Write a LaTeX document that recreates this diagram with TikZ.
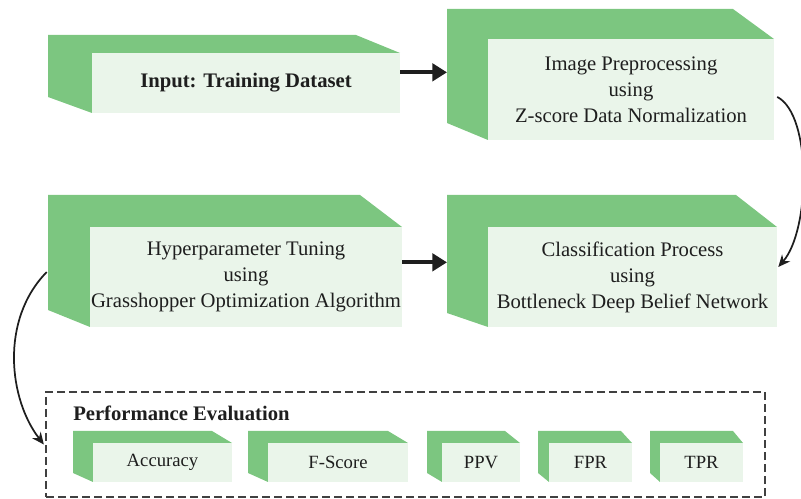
\documentclass[tikz,border=0pt]{standalone}
\usepackage{fontspec}
\setmainfont{Liberation Serif}
\usetikzlibrary{arrows.meta}
\definecolor{sidegreen}{RGB}{124,198,128}
\definecolor{facegreen}{RGB}{234,245,234}
\definecolor{inkgray}{RGB}{30,30,30}
\tikzset{
  side/.style={fill=sidegreen},
  face/.style={fill=facegreen, inner sep=0pt, align=center, text=inkgray,
    font=\fontsize{15.5}{19.5}\selectfont},
  bigarrow/.style={line width=3pt, -{Triangle[length=11pt,width=13pt]}},
  curvearrow/.style={line width=1.3pt, -{Stealth[length=9pt,width=8pt]}},
}
% \slab{name}{x1}{y1}{x2}{y2}{depth x}{depth top}{depth bottom}{text}
% front face (x1,y1)-(x2,y2) with a green top and left side behind it
\newcommand\slab[9]{%
  \fill[side] ({#2-#6},{#3-#7}) -- ({#4-#6},{#3-#7}) -- (#4,#3) -- (#2,#3)
    -- (#2,#5) -- ({#2-#6},{#5-#8}) -- cycle;
  \node[face, minimum width={(#4-#2)*0.75pt}, minimum height={(#5-#3)*0.75pt}]
    (#1) at ({(#2+#4)/2},{(#3+#5)/2}) {#9};
  \coordinate (#1-back) at ({#2-#6},{(#3+#5)/2});
}
\begin{document}
\begin{tikzpicture}[x=0.75pt, y=-0.75pt]
\useasboundingbox (0,0) rectangle (801,499);

% main processing stages
\slab{input}{92}{53}{400}{113}{44}{18}{16}{\textbf{Input: Training Dataset}}
\slab{prep}{488}{39}{774}{140}{41}{30}{17}{Image Preprocessing\\using\\Z-score Data Normalization}
\slab{hyper}{90}{227}{402}{327}{42}{32}{17}{Hyperparameter Tuning\\using\\Grasshopper Optimization Algorithm}
\slab{class}{488}{227}{777}{327}{41}{32}{14}{Classification Process\\using\\Bottleneck Deep Belief Network}

% evaluation block
\node[draw=inkgray!85, dashed, dash pattern=on 6pt off 3pt, line width=1.2pt,
      minimum width={(765-46)*0.75pt}, minimum height={(497-392)*0.75pt}, inner sep=0pt]
  (perf) at ({(46+765)/2},{(392+497)/2}) {};
\node[anchor=west, inner sep=0pt, text=inkgray, font=\fontsize{15.5}{18}\selectfont\bfseries]
  (perftitle) at (73,413) {Performance Evaluation};

\begin{scope}[face/.append style={font=\fontsize{14}{17}\selectfont}]
\slab{acc}{93}{443}{232}{482}{20}{12}{9}{Accuracy}
\slab{fs}{268}{443}{408}{482}{20}{12}{9}{F-Score}
\slab{ppv}{442}{443}{520}{482}{15}{12}{9}{PPV}
\slab{fpr}{549}{443}{632}{482}{11}{12}{9}{FPR}
\slab{tpr}{660}{443}{743}{482}{10}{12}{9}{TPR}
\end{scope}

% connectors
\draw[bigarrow, inkgray] ([yshift=8pt]input.east) -- ([yshift=8pt]input.east -| prep-back);
\draw[bigarrow, inkgray] ([yshift=11pt]hyper.east) -- ([yshift=11pt]hyper.east -| class-back);
\draw[curvearrow, inkgray] ([xshift=2.25pt,yshift=-5.6pt]prep.east)
  .. controls +(35,18) and +(32,-37) .. ([xshift=0.75pt,yshift=7.5pt]class.east);
\draw[curvearrow, inkgray] ([xshift=-32.25pt,yshift=3.75pt]hyper.west)
  .. controls +(-47,48) and +(-35,-45) .. ([xshift=-1pt]perf.west);
\end{tikzpicture}
\end{document}
